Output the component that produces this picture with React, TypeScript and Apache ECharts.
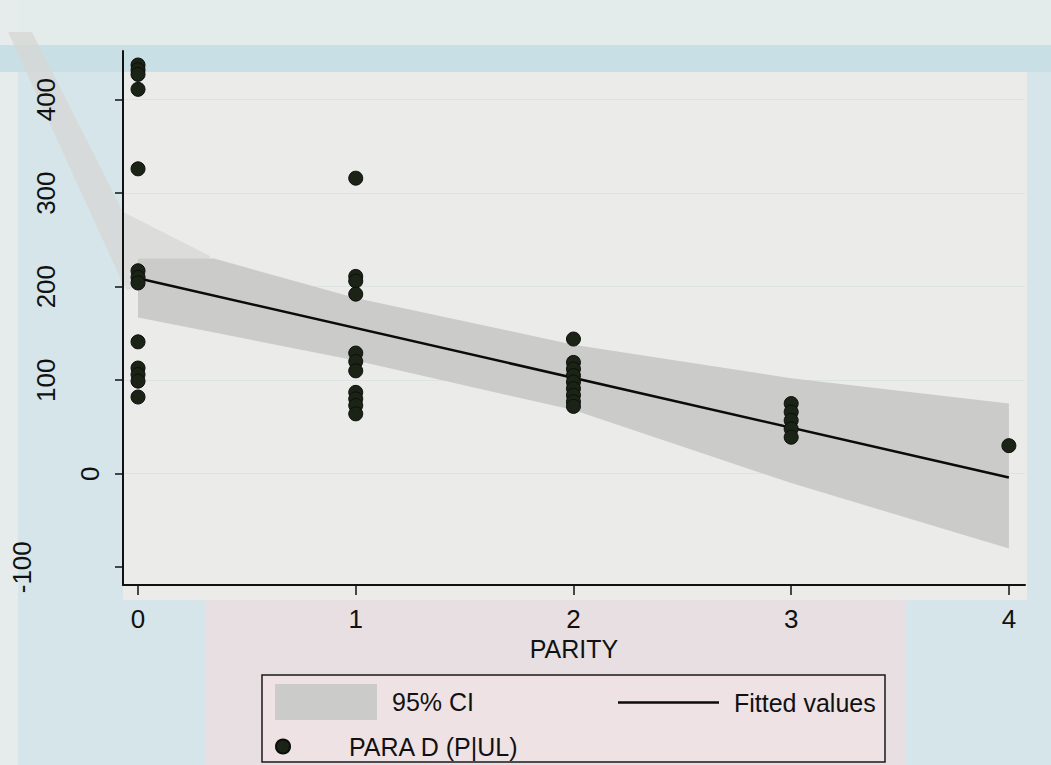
import React, { useEffect, useRef } from "react";
import * as echarts from "echarts";

// ---- data ----
const xTicks = [0, 1, 2, 3, 4];
const yTicks = [-100, 0, 100, 200, 300, 400];

const paraD_parity0 = [437, 432, 427, 411, 326, 217, 210, 204, 141, 113, 106, 99, 82];
const paraD_parity1 = [316, 211, 206, 192, 129, 120, 110, 87, 80, 73, 64];
const paraD_parity2 = [144, 119, 112, 105, 98, 91, 84, 77, 72];
const paraD_parity3 = [75, 66, 57, 48, 39];
const paraD_parity4 = [30];

const fitX = [0, 4];
const fitY = [209, -4];

const ciX = [0, 0.35, 1, 2, 3, 4];
const ciUpper = [230, 230, 188, 138, 102, 75];
const ciLower = [167, 151, 121, 68, -10, -80];

const FONT = "'Liberation Sans', Arial, sans-serif";

export default function App() {
  const ref = useRef<HTMLDivElement>(null);
  useEffect(() => {
    if (!ref.current) return;
    const chart = echarts.init(ref.current, null, { renderer: "svg" });

    const groups = [paraD_parity0, paraD_parity1, paraD_parity2, paraD_parity3, paraD_parity4];
    const scatterData: number[][] = [];
    groups.forEach((g, i) => g.forEach((v) => scatterData.push([xTicks[i], v])));

    const option: any = {
      animation: false,
      backgroundColor: "#d5e5ea",
      textStyle: { fontFamily: FONT },
      grid: { left: 123, right: 26, top: 51, bottom: 180, containLabel: false },
      xAxis: {
        type: "value",
        min: -0.069,
        max: 4.074,
        name: "PARITY",
        nameLocation: "middle",
        nameGap: 42,
        nameTextStyle: { fontSize: 25, color: "#111", fontFamily: FONT },
        axisLine: { show: true, onZero: false, lineStyle: { color: "#111", width: 2 } },
        axisTick: { show: true, customValues: xTicks, length: 10, lineStyle: { color: "#111", width: 1.5 } },
        axisLabel: { customValues: xTicks, fontSize: 26, color: "#111", margin: 21, fontFamily: FONT },
        splitLine: { show: false },
      },
      yAxis: {
        type: "value",
        min: -119,
        max: 452,
        axisLine: { show: true, onZero: false, lineStyle: { color: "#111", width: 2 } },
        axisTick: { show: true, customValues: yTicks, length: 8, lineStyle: { color: "#111", width: 1.5 } },
        axisLabel: {
          customValues: yTicks,
          rotate: 90,
          margin: 20,
          fontSize: 26,
          color: "#111",
          fontFamily: FONT,
          formatter: (v: number) => {
            const s = String(v);
            if (v === 0) return `{a|${s}}`;
            if (s.length >= 4) return `{c|${s}}`;
            return `{b|${s}}`;
          },
          rich: {
            a: { fontSize: 26, fontFamily: FONT, color: "#111" },
            b: { fontSize: 26, fontFamily: FONT, color: "#111", padding: [0, 0, 44, 0] },
            c: { fontSize: 26, fontFamily: FONT, color: "#111", padding: [0, 0, 68, 0] },
          },
        },
        splitLine: { show: false },
      },
      legend: [
        {
          data: ["95% CI"],
          left: 270,
          top: 679,
          icon: "rect",
          itemWidth: 102,
          itemHeight: 36,
          textStyle: { fontSize: 25, color: "#111", fontFamily: FONT, padding: [0, 0, 0, 10] },
          selectedMode: false,
        },
        {
          data: [{ name: "Fitted values", icon: "rect" }],
          left: 613,
          top: 685,
          itemWidth: 101,
          itemHeight: 2.5,
          textStyle: { fontSize: 25, color: "#111", fontFamily: FONT, padding: [0, 0, 0, 10] },
          selectedMode: false,
        },
        {
          data: ["PARA D (P|UL)"],
          left: 270,
          top: 729,
          itemWidth: 102,
          itemHeight: 14,
          textStyle: { fontSize: 25, color: "#111", fontFamily: FONT, padding: [0, 0, 0, 10] },
          selectedMode: false,
        },
      ],
      graphic: [
        { type: "rect", z: -20, shape: { x: 0, y: 0, width: 1051, height: 45 }, style: { fill: "#e4ebeb" } },
        { type: "rect", z: -20, shape: { x: 0, y: 0, width: 18, height: 765 }, style: { fill: "#e6eceb" } },
        { type: "rect", z: -19, shape: { x: 0, y: 45, width: 1051, height: 27 }, style: { fill: "#c8dfe5" } },
        { type: "rect", z: -18, shape: { x: 123, y: 72, width: 904, height: 528 }, style: { fill: "#ebecea" } },
        { type: "rect", z: -18, shape: { x: 205, y: 600, width: 700, height: 165 }, style: { fill: "#e7dfe1" } },
        {
          type: "polygon",
          z: -15,
          shape: { points: [[8, 32], [32, 32], [123, 212], [210, 256], [210, 258], [127, 290], [123, 284]] },
          style: { fill: "#d6d5d3", opacity: 0.7 },
        },
        {
          type: "rect",
          z: 3,
          shape: { x: 262, y: 675, width: 623, height: 87 },
          style: { fill: "#efe2e5", stroke: "#1a1a1a", lineWidth: 1.5 },
        },
      ],
      series: [
        {
          type: "custom",
          name: "95% CI",
          coordinateSystem: "cartesian2d",
          itemStyle: { color: "#cbcbc9" },
          data: ciX.map((x, i) => [x, ciLower[i], ciUpper[i]]),
          encode: { x: 0, y: [1, 2] },
          z: 1,
          renderItem: (params: any, api: any) => {
            if (params.dataIndex !== 0) return null;
            const up = ciX.map((x, i) => api.coord([x, ciUpper[i]]));
            const lo = ciX.map((x, i) => api.coord([x, ciLower[i]])).reverse();
            return { type: "polygon", shape: { points: up.concat(lo) }, style: { fill: "#cbcbc9" } };
          },
        },
        {
          type: "line",
          name: "Fitted values",
          data: fitX.map((x, i) => [x, fitY[i]]),
          symbol: "none",
          showSymbol: false,
          lineStyle: { color: "#0b0b0b", width: 2.5 },
          itemStyle: { color: "#0b0b0b" },
          z: 3,
          markLine: {
            silent: true,
            symbol: "none",
            label: { show: false },
            lineStyle: { color: "#dde2e3", width: 1, type: "solid" },
            data: yTicks.filter((v) => v > -100).map((v) => ({ yAxis: v })),
            z: 0,
          },
        },
        {
          type: "scatter",
          name: "PARA D (P|UL)",
          data: scatterData,
          symbol: "circle",
          symbolSize: 14,
          itemStyle: { color: "#1b2317", borderColor: "#0c0e0a", borderWidth: 1, opacity: 1 },
          z: 4,
        },
      ],
    };
    chart.setOption(option);
    return () => chart.dispose();
  }, []);
  return <div ref={ref} style={{ width: 1051, height: 765, position: "absolute", left: 0, top: 0 }} />;
}
